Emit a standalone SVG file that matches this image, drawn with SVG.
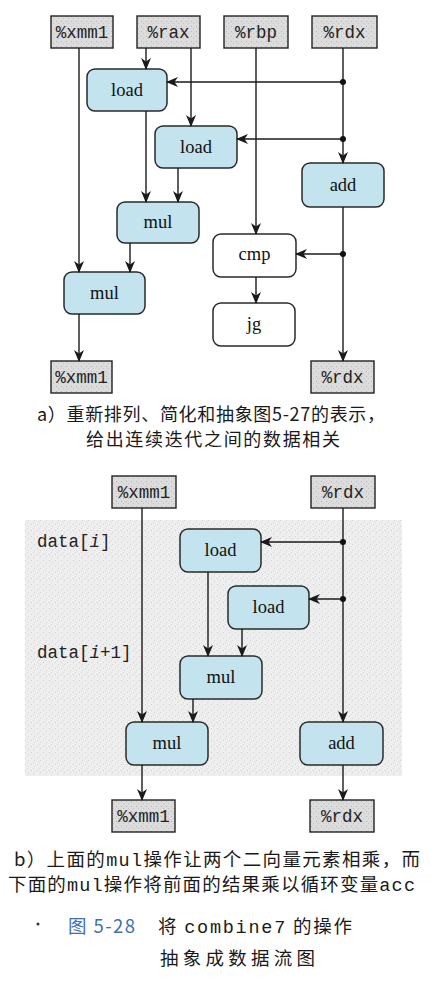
<svg xmlns="http://www.w3.org/2000/svg" width="435" height="990" viewBox="0 0 435 990">
<defs>
<marker id="arr" viewBox="0 0 12 10" refX="11" refY="5" markerWidth="12" markerHeight="10" markerUnits="userSpaceOnUse" orient="auto">
<path d="M0,0 L12,5 L0,10 L3.5,5 z" fill="#1a1a1a"/>
</marker>
<pattern id="stip" width="6" height="6" patternUnits="userSpaceOnUse">
<rect width="6" height="6" fill="#eeeeee"/>
<rect x="1" y="2" width="1" height="1" fill="#cfcfcf"/>
<rect x="4" y="4" width="1" height="1" fill="#d6d6d6"/>
<rect x="3" y="0" width="1" height="1" fill="#dadada"/>
</pattern>
<pattern id="regstip" width="5" height="5" patternUnits="userSpaceOnUse">
<rect width="5" height="5" fill="#dcdcdc"/>
<rect x="1" y="1" width="1" height="1" fill="#b8b8b8"/>
<rect x="3" y="3" width="1" height="1" fill="#c4c4c4"/>
</pattern>
</defs>
<style>
.reg{fill:url(#regstip);stroke:#222;stroke-width:1.4}
.regt{font-family:"Liberation Mono",monospace;font-size:17.5px;fill:#222;text-anchor:middle}
.op{fill:#c3e4ee;stroke:#2a2a2a;stroke-width:1.5}
.wop{fill:#ffffff;stroke:#2a2a2a;stroke-width:1.5}
.opt{font-family:"Liberation Serif",serif;font-size:18.5px;fill:#111;text-anchor:middle}
.ln{fill:none;stroke:#1a1a1a;stroke-width:1.4}
.ar{marker-end:url(#arr)}
.dot{fill:#111}
.cap{font-family:"Noto Sans CJK SC",sans-serif;font-size:18.5px;fill:#1a1a1a}
.capa{font-family:"Noto Sans CJK SC",sans-serif;font-size:18px;fill:#1a1a1a}
.mono{font-family:"Liberation Mono",monospace}
.lbl{font-family:"Liberation Mono",monospace;font-size:17.5px;fill:#222}
</style>
<rect width="435" height="990" fill="#ffffff"/>

<!-- Part a -->
<g id="a-xmm1-in"><rect class="reg" x="51" y="16" width="62" height="32"/><text class="regt" x="82" y="38">%xmm1</text></g>
<g id="a-rax"><rect class="reg" x="137" y="16" width="63" height="32"/><text class="regt" x="168.5" y="38">%rax</text></g>
<g id="a-rbp"><rect class="reg" x="224" y="16" width="64" height="32"/><text class="regt" x="256" y="38">%rbp</text></g>
<g id="a-rdx-in"><rect class="reg" x="312" y="16" width="65" height="32"/><text class="regt" x="344.5" y="38">%rdx</text></g>

<g id="a-load1"><rect class="op" x="87" y="69" width="80" height="42" rx="8"/><text class="opt" x="127" y="96">load</text></g>
<g id="a-load2"><rect class="op" x="155" y="126" width="82" height="42" rx="8"/><text class="opt" x="196" y="153">load</text></g>
<g id="a-add"><rect class="op" x="302" y="163" width="82" height="44" rx="8"/><text class="opt" x="343" y="191">add</text></g>
<g id="a-mul1"><rect class="op" x="117" y="202" width="82" height="41" rx="8"/><text class="opt" x="158" y="228">mul</text></g>
<g id="a-cmp"><rect class="wop" x="213" y="234" width="83" height="43" rx="8"/><text class="opt" x="254.5" y="260">cmp</text></g>
<g id="a-mul2"><rect class="op" x="64" y="272" width="81" height="42" rx="8"/><text class="opt" x="104.5" y="299">mul</text></g>
<g id="a-jg"><rect class="wop" x="213" y="303" width="82" height="43" rx="8"/><text class="opt" x="254" y="330">jg</text></g>

<g id="a-xmm1-out"><rect class="reg" x="51" y="361" width="61" height="32"/><text class="regt" x="81.5" y="383">%xmm1</text></g>
<g id="a-rdx-out"><rect class="reg" x="311" y="361" width="63" height="32"/><text class="regt" x="342.5" y="383">%rdx</text></g>

<g id="a-connectors">
<path class="ln ar" d="M79,48 V272"/>
<path class="ln ar" d="M146,48 V69"/>
<path class="ln ar" d="M191,48 V126"/>
<path class="ln ar" d="M256,48 V234"/>
<path class="ln ar" d="M343,48 V163"/>
<path class="ln ar" d="M343,82 H167"/>
<path class="ln ar" d="M343,139 H237"/>
<path class="ln ar" d="M146,111 V202"/>
<path class="ln ar" d="M178,168 V202"/>
<path class="ln ar" d="M343,207 V361"/>
<path class="ln ar" d="M343,254 H296"/>
<path class="ln ar" d="M256,277 V303"/>
<path class="ln ar" d="M130,243 V272"/>
<path class="ln ar" d="M79,314 V361"/>
<circle class="dot" cx="343" cy="82" r="3"/>
<circle class="dot" cx="343" cy="139" r="3"/>
<circle class="dot" cx="343" cy="254" r="3"/>
</g>

<text class="capa" x="37" y="421" textLength="348" lengthAdjust="spacing">a）重新排列、简化和抽象图5-27的表示，</text>
<text class="capa" x="86" y="446" textLength="254" lengthAdjust="spacing">给出连续迭代之间的数据相关</text>

<!-- Part b -->
<rect x="25" y="520" width="377" height="256" fill="url(#stip)"/>
<g id="b-xmm1-in"><rect class="reg" x="112" y="476" width="64" height="32"/><text class="regt" x="144" y="498">%xmm1</text></g>
<g id="b-rdx-in"><rect class="reg" x="311" y="476" width="64" height="32"/><text class="regt" x="343" y="498">%rdx</text></g>

<text class="lbl" x="37" y="547">data[<tspan font-style="italic">i</tspan>]</text>
<text class="lbl" x="37" y="658">data[<tspan font-style="italic">i</tspan>+1]</text>

<g id="b-load1"><rect class="op" x="180" y="529" width="81" height="43" rx="8"/><text class="opt" x="220.5" y="556">load</text></g>
<g id="b-load2"><rect class="op" x="228" y="586" width="81" height="43" rx="8"/><text class="opt" x="268.5" y="613">load</text></g>
<g id="b-mul1"><rect class="op" x="180" y="656" width="82" height="43" rx="8"/><text class="opt" x="221" y="683">mul</text></g>
<g id="b-mul2"><rect class="op" x="126" y="722" width="82" height="43" rx="8"/><text class="opt" x="167" y="749">mul</text></g>
<g id="b-add"><rect class="op" x="300" y="722" width="83" height="43" rx="8"/><text class="opt" x="341.5" y="749">add</text></g>

<g id="b-xmm1-out"><rect class="reg" x="112" y="800" width="63" height="32"/><text class="regt" x="143.5" y="822">%xmm1</text></g>
<g id="b-rdx-out"><rect class="reg" x="310" y="800" width="64" height="32"/><text class="regt" x="342" y="822">%rdx</text></g>

<g id="b-connectors">
<path class="ln ar" d="M142,508 V722"/>
<path class="ln ar" d="M343,508 V722"/>
<path class="ln ar" d="M343,542 H261"/>
<path class="ln ar" d="M343,599 H309"/>
<path class="ln ar" d="M208,572 V656"/>
<path class="ln ar" d="M242,629 V656"/>
<path class="ln ar" d="M193,699 V722"/>
<path class="ln ar" d="M142,765 V800"/>
<path class="ln ar" d="M343,765 V800"/>
<circle class="dot" cx="343" cy="542" r="3"/>
<circle class="dot" cx="343" cy="599" r="3"/>
</g>

<text class="cap" x="14" y="866" textLength="406" lengthAdjust="spacing">b）上面的<tspan class="mono">mul</tspan>操作让两个二向量元素相乘，而</text>
<text class="cap" x="8" y="891" textLength="407" lengthAdjust="spacing">下面的<tspan class="mono">mul</tspan>操作将前面的结果乘以循环变量<tspan class="mono">acc</tspan></text>

<circle cx="38" cy="924" r="1.5" fill="#333"/>
<text class="cap" x="68" y="933" style="fill:#3f6fb6" textLength="67" lengthAdjust="spacing">图 5-28</text>
<text class="cap" x="158" y="933" textLength="194" lengthAdjust="spacing">将 <tspan class="mono">combine7</tspan> 的操作</text>
<text class="cap" x="160" y="965" textLength="155" lengthAdjust="spacing">抽象成数据流图</text>
</svg>
